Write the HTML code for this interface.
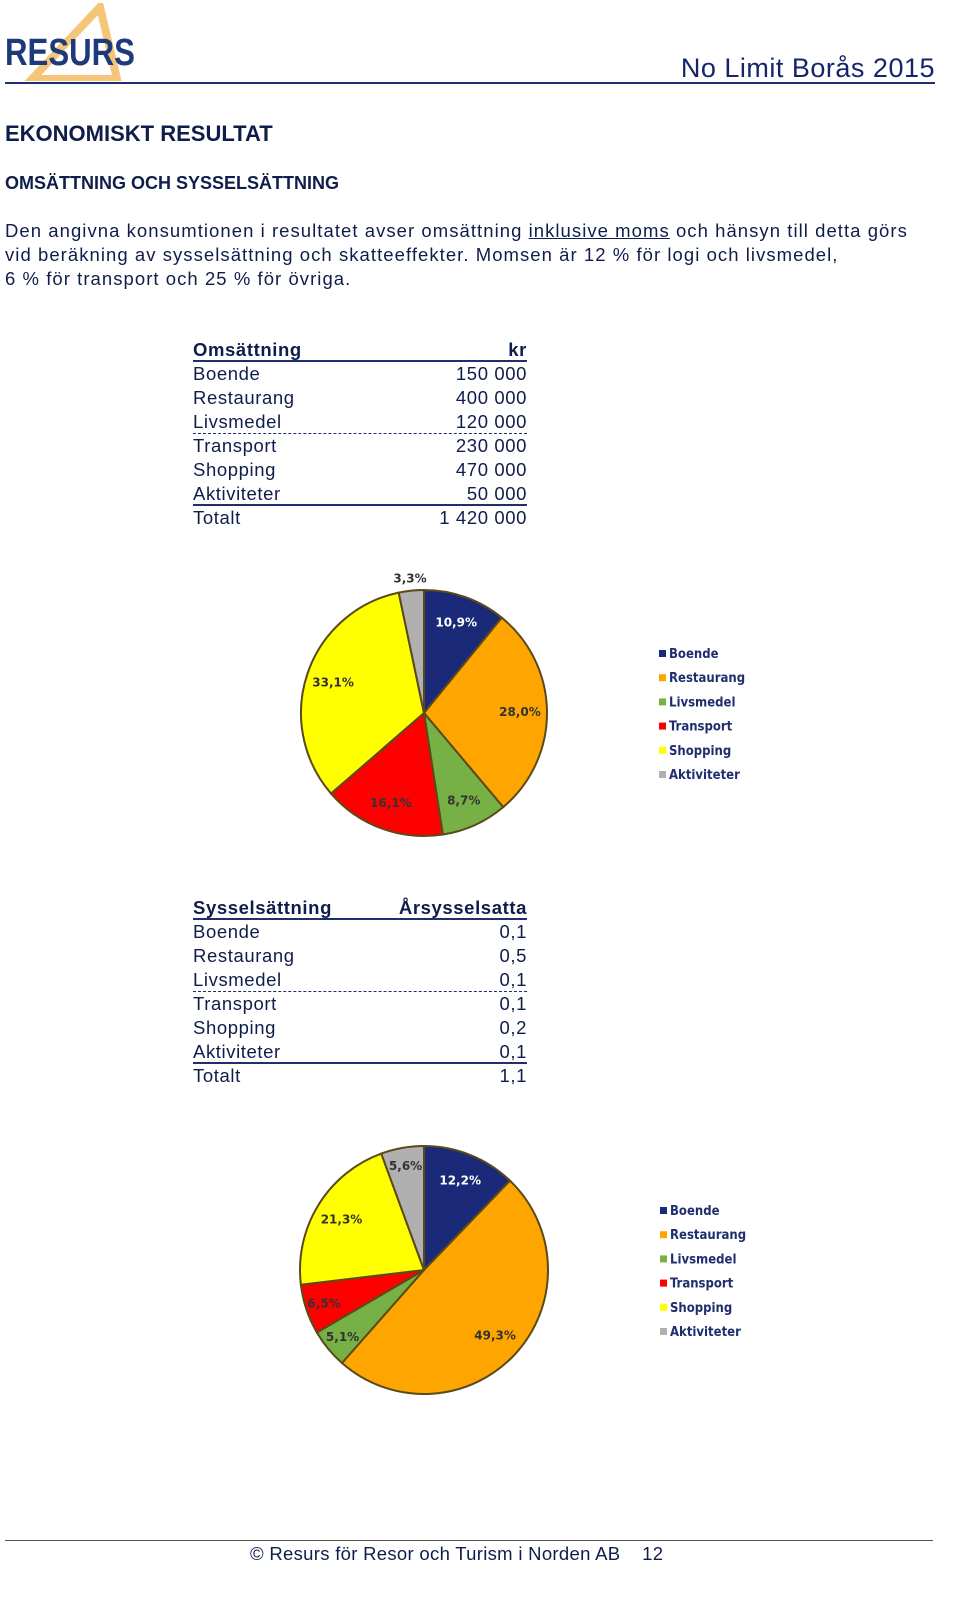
<!DOCTYPE html>
<html><head><meta charset="utf-8"><style>
body{margin:0;width:960px;height:1605px;background:#fff;position:relative;font-family:"Liberation Sans",sans-serif;color:#0f1d4a;overflow:hidden}
.a{position:absolute;white-space:nowrap}
.t{position:absolute;left:193px;width:334px;font-size:18.5px;line-height:24px;letter-spacing:0.6px}
.row{display:flex;justify-content:space-between;height:24px}
.b{font-weight:bold}
</style></head><body>
<div class="a" style="left:5px;top:3px;width:135px;height:78px">
<svg width="135" height="78"><polygon points="95,4 112,76 27,76" fill="none" stroke="#f5c57a" stroke-width="8"/>
<text x="0" y="62" font-family="Liberation Sans" font-weight="bold" font-size="38" fill="#1f3a7a" textLength="130" lengthAdjust="spacingAndGlyphs">RESURS</text></svg></div>
<div class="a" style="right:25px;top:53px;font-size:27px;letter-spacing:0.5px;color:#16246a">No Limit Borås 2015</div>
<div class="a" style="left:5px;top:82px;width:930px;height:2px;background:#1f2f6e"></div>
<div class="a b" style="left:5px;top:121px;font-size:22px">EKONOMISKT RESULTAT</div>
<div class="a b" style="left:5px;top:173px;font-size:18px">OMSÄTTNING OCH SYSSELSÄTTNING</div>
<div class="a" style="left:5px;top:219px;font-size:18.5px;line-height:24px;letter-spacing:1.05px">Den angivna konsumtionen i resultatet avser omsättning <u>inklusive moms</u> och hänsyn till detta görs<br>vid beräkning av sysselsättning och skatteeffekter. Momsen är 12 % för logi och livsmedel,<br>6 % för transport och 25 % för övriga.</div>

<div class="t" style="top:338px">
<div class="row b" style="border-bottom:2px solid #1f2f6e;height:22px"><span>Omsättning</span><span>kr</span></div>
<div class="row"><span>Boende</span><span>150 000</span></div>
<div class="row"><span>Restaurang</span><span>400 000</span></div>
<div class="row" style="border-bottom:1px dashed #1f2f6e;height:23px"><span>Livsmedel</span><span>120 000</span></div>
<div class="row"><span>Transport</span><span>230 000</span></div>
<div class="row"><span>Shopping</span><span>470 000</span></div>
<div class="row" style="border-bottom:2px solid #1f2f6e;height:22px"><span>Aktiviteter</span><span>50 000</span></div>
<div class="row"><span>Totalt</span><span>1 420 000</span></div>
</div>

<div class="t" style="top:896px">
<div class="row b" style="border-bottom:2px solid #1f2f6e;height:22px"><span>Sysselsättning</span><span>Årsysselsatta</span></div>
<div class="row"><span>Boende</span><span>0,1</span></div>
<div class="row"><span>Restaurang</span><span>0,5</span></div>
<div class="row" style="border-bottom:1px dashed #1f2f6e;height:23px"><span>Livsmedel</span><span>0,1</span></div>
<div class="row"><span>Transport</span><span>0,1</span></div>
<div class="row"><span>Shopping</span><span>0,2</span></div>
<div class="row" style="border-bottom:2px solid #1f2f6e;height:22px"><span>Aktiviteter</span><span>0,1</span></div>
<div class="row"><span>Totalt</span><span>1,1</span></div>
</div>

<svg id="chart" class="a" style="left:0;top:0" width="960" height="1605"></svg>

<div class="a" style="left:5px;top:1540px;width:928px;height:1px;background:#555"></div>
<div class="a" style="left:250px;top:1543px;font-size:18.5px;letter-spacing:0.3px">© Resurs för Resor och Turism i Norden AB &nbsp;&nbsp;&nbsp;12</div>

<script>
const categories=["Boende","Restaurang","Livsmedel","Transport","Shopping","Aktiviteter"];
const revenueShares=[10.9,28.0,8.7,16.1,33.1,3.3];
const employmentShares=[12.2,49.3,5.1,6.5,21.3,5.6];
const colors=["#1b2a78","#ffa500","#77b045","#ff0000","#ffff00","#b0b0b0"];
const NS="http://www.w3.org/2000/svg";
const svg=document.getElementById('chart');
function mk(t,a){const e=document.createElementNS(NS,t);for(const k in a)e.setAttribute(k,a[k]);return e;}
function fmt(v){return v.toFixed(1).replace('.',',')+'%';}
function pie(vals,cx,cy,r,lx,ly,name){
  const tot=vals.reduce((s,v)=>s+v,0);let acc=0;
  vals.forEach((v,i)=>{
    const a0=acc/tot*2*Math.PI;acc+=v;const a1=acc/tot*2*Math.PI;
    const x0=cx+r*Math.sin(a0),y0=cy-r*Math.cos(a0),x1=cx+r*Math.sin(a1),y1=cy-r*Math.cos(a1);
    const p=mk('path',{d:`M${cx},${cy}L${x0},${y0}A${r},${r} 0 ${a1-a0>Math.PI?1:0} 1 ${x1},${y1}Z`,fill:colors[i],stroke:'#5a4a1a','stroke-width':2});
    
    
    svg.appendChild(p);
    const am=(a0+a1)/2;const lr=v<4?r*1.1:(v<8?r*0.85:r*0.78);
    const t=mk('text',{x:cx+lr*Math.sin(am),y:cy-lr*Math.cos(am)+4,'text-anchor':'middle','font-size':12,'font-weight':'bold','font-family':'DejaVu Sans, sans-serif',fill:i==0?'#fff':'#333'});
    t.textContent=fmt(v);
    
    
    svg.appendChild(t);
    const ly2=ly+i*24.2;
    const sq=mk('rect',{x:lx,y:ly2-8,width:7,height:7,fill:colors[i]});
    
    
    svg.appendChild(sq);
    const lt=mk('text',{x:lx+10,y:ly2,'font-size':13,'font-weight':'bold','font-family':'DejaVu Sans Condensed, DejaVu Sans, sans-serif',fill:'#1f2f6e'});
    lt.textContent=categories[i];
    
    
    svg.appendChild(lt);
  });
}
pie(revenueShares,424,713,123,659,658,'revenue-pie');
pie(employmentShares,424,1270,124,660,1215,'employment-pie');
</script>
</body></html>
